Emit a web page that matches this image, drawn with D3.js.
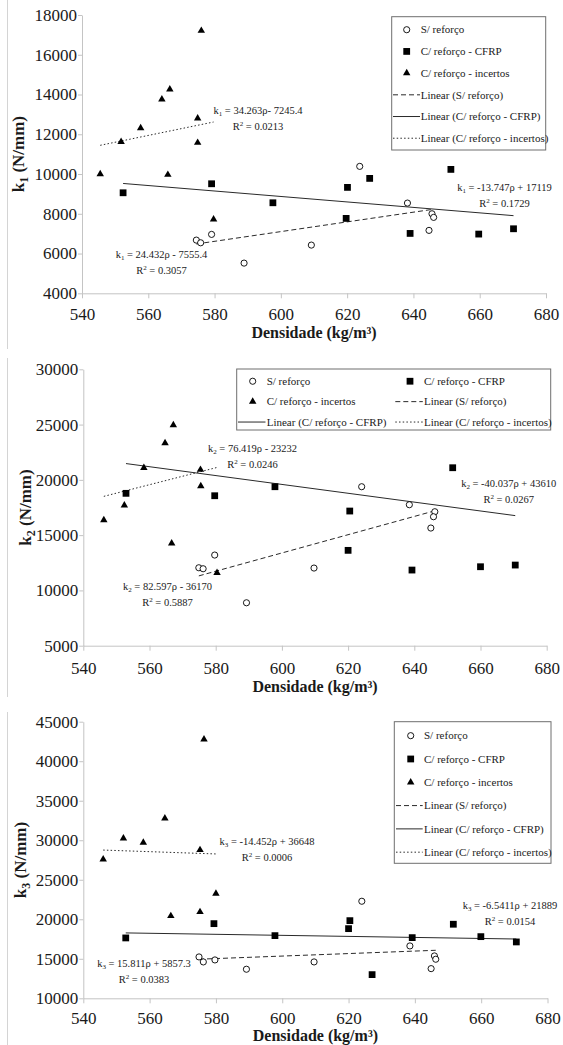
<!DOCTYPE html>
<html>
<head>
<meta charset="utf-8">
<script src="https://cdn.jsdelivr.net/npm/d3@7/dist/d3.min.js"></script>
<style>
body { margin: 0; background: #fff; }
svg text { font-family: "Liberation Serif", "Times New Roman", "DejaVu Serif", serif; fill: #1a1a1a; }
</style>
</head>
<body>
<svg id="chart" width="563" height="1045" font-family="Liberation Serif, Times New Roman, DejaVu Serif, serif"></svg>
<script>
// ---- data: [densidade, k] ----
var xTicks = [540, 560, 580, 600, 620, 640, 660, 680];
var k1Ticks = [4000, 6000, 8000, 10000, 12000, 14000, 16000, 18000];
var k2Ticks = [5000, 10000, 15000, 20000, 25000, 30000];
var k3Ticks = [10000, 15000, 20000, 25000, 30000, 35000, 40000, 45000];

var seriesNames = ["S/ reforço", "C/ reforço - CFRP", "C/ reforço - incertos"];
var lineNames = ["Linear (S/ reforço)", "Linear (C/ reforço - CFRP)", "Linear (C/ reforço - incertos)"];

var k1Sem = [[574.5, 6676], [575.8, 6541], [579.1, 6963], [588.9, 5519], [609.2, 6425], [623.8, 10385], [638.2, 8539], [645.6, 8000], [646.1, 7819], [644.7, 7165]];
var k1Cfrp = [[552.4, 9057], [579.1, 9510], [597.6, 8554], [620.1, 9328], [626.8, 9780], [619.7, 7767], [639.0, 7012], [651.3, 10233], [659.7, 6979], [670.2, 7246]];
var k1Inc = [[545.5, 10000], [551.8, 11624], [557.7, 12313], [564.1, 13755], [566.5, 14260], [576.0, 17210], [574.9, 12800], [574.9, 11575], [565.9, 9965], [579.7, 7717]];

var k2Sem = [[574.9, 12050], [576.2, 11960], [579.7, 13199], [589.3, 8883], [609.7, 12023], [624.1, 19379], [638.5, 17750], [646.2, 17117], [645.8, 16664], [645.0, 15642]];
var k2Cfrp = [[552.9, 18781], [579.7, 18564], [597.9, 19379], [620.5, 17180], [620.0, 13624], [639.3, 11842], [651.6, 21097], [660.0, 12142], [670.5, 12294]];
var k2Inc = [[546.2, 16366], [552.4, 17695], [558.3, 21097], [564.7, 23332], [567.2, 24960], [575.4, 20917], [575.5, 19442], [566.7, 14258], [580.4, 11600]];

var k3Sem = [[574.9, 15234], [576.2, 14602], [579.7, 14854], [589.2, 13678], [609.6, 14602], [624.0, 22280], [638.5, 16626], [645.9, 15361], [646.3, 14943], [644.9, 13754]];
var k3Cfrp = [[552.8, 17638], [579.4, 19447], [597.8, 17929], [620.4, 19826], [620.0, 18814], [627.1, 12995], [639.2, 17676], [651.6, 19371], [659.9, 17802], [670.6, 17132]];
var k3Inc = [[546.0, 27593], [552.1, 30250], [558.1, 29693], [564.6, 32780], [576.4, 42774], [575.2, 28770], [580.0, 23242], [575.2, 20927], [566.4, 20421]];

// trendline coefficients [slope, intercept] as printed on the chart (S, CFRP, incertos)
var k1Fits = [[24.432, -7555.4], [-13.747, 17119], [34.263, -7245.4]];
var k2Fits = [[82.597, -36170], [-40.037, 43610], [76.419, -23232]];
var k3Fits = [[15.811, 5857.3], [-6.5411, 21889], [-14.452, 36648]];

var k1Eq = ["= 24.432ρ - 7555.4", "= -13.747ρ + 17119", "= 34.263ρ- 7245.4"];
var k2Eq = ["= 82.597ρ - 36170", "= -40.037ρ + 43610", "= 76.419ρ - 23232"];
var k3Eq = ["= 15.811ρ + 5857.3", "= -6.5411ρ + 21889", "= -14.452ρ + 36648"];
var k1R2 = ["0.3057", "0.1729", "0.0213"];
var k2R2 = ["0.5887", "0.0267", "0.0246"];
var k3R2 = ["0.0383", "0.0154", "0.0006"];

// ---- layout ----
var FONT = "'Liberation Serif', 'Times New Roman', 'DejaVu Serif', serif";
var svg = d3.select("#chart");
var dashes = ["5,3", null, "1.5,2.2"];
var symbols = [d3.symbolCircle, d3.symbolSquare, d3.symbolTriangle];
var symSizes = [30, 46, 24];

var panels = [
    {sub: "1", series: [k1Sem, k1Cfrp, k1Inc], fits: k1Fits, eq: k1Eq, r2: k1R2, ticks: k1Ticks,
     x0: 82, x1: 546, yt: 15, yb: 293.3, frame: [0, 349], xLab: 314, xTitle: 333, yTitleX: 18,
     labPos: [[161.5, 254.3], [504.5, 187.3], [258, 110.7]],
     legend: {x: 391.7, y: 16.7, w: 154, h: 133.3, cols: 1, rowH: 21.7, mark: 406.7, text: 420.7, lx0: 393, lx1: 420}},
    {sub: "2", series: [k2Sem, k2Cfrp, k2Inc], fits: k2Fits, eq: k2Eq, r2: k2R2, ticks: k2Ticks,
     x0: 83.3, x1: 546.7, yt: 369.3, yb: 645.7, frame: [358, 697], xLab: 668.5, xTitle: 687, yTitleX: 25,
     labPos: [[167.5, 586.7], [508.7, 483.3], [252.5, 448.3]],
     legend: {x: 236.7, y: 369, w: 314, h: 61, cols: 2, rowH: 20.4, colW: 157.3, mark: 252.7, text: 266.7, lx0: 238, lx1: 265.5}},
    {sub: "3", series: [k3Sem, k3Cfrp, k3Inc], fits: k3Fits, eq: k3Eq, r2: k3R2, ticks: k3Ticks,
     x0: 83.3, x1: 547.5, yt: 721.7, yb: 998.3, frame: [712, 1045], xLab: 1018.5, xTitle: 1035.5, yTitleX: 20,
     labPos: [[144, 963.3], [510, 905.3], [267, 841.7]],
     legend: {x: 394.3, y: 721.7, w: 156.7, h: 141.6, cols: 1, rowH: 23.3, mark: 410.7, text: 424, lx0: 396, lx1: 422.7}}
];

function drawPanel(p) {
    var ticks = p.ticks;
    var x = d3.scaleLinear().domain([540, 680]).range([p.x0, p.x1]);
    var y = d3.scaleLinear().domain([ticks[0], ticks[ticks.length - 1]]).range([p.yb, p.yt]);
    var g = svg.append("g");

    // chart area edge
    g.append("line").attr("x1", 7.5).attr("x2", 7.5).attr("y1", p.frame[0]).attr("y2", p.frame[1])
        .attr("stroke", "#d4d4d4");

    var yAxis = g.append("g").attr("transform", "translate(" + p.x0 + ",0)")
        .call(d3.axisLeft(y).tickValues(ticks).tickSizeInner(4).tickSizeOuter(0).tickPadding(1).tickFormat(d3.format("d")));
    var xAxis = g.append("g").attr("transform", "translate(0," + p.yb + ")")
        .call(d3.axisBottom(x).tickValues(xTicks).tickSizeInner(5).tickSizeOuter(0).tickFormat(d3.format("d")));
    [yAxis, xAxis].forEach(function (a) {
        a.attr("font-family", FONT).attr("font-size", 17);
        a.select(".domain").attr("stroke", "#c4c4c4");
        a.selectAll(".tick line").attr("stroke", "#c4c4c4");
        a.selectAll("text").attr("fill", "#1a1a1a");
    });
    xAxis.selectAll("text").attr("dy", null).attr("y", p.xLab - p.yb + 5.6);

    // axis titles
    g.append("text").attr("x", (p.x0 + p.x1) / 2).attr("y", p.xTitle + 5.4)
        .attr("text-anchor", "middle").attr("font-size", 16).attr("font-weight", "bold")
        .attr("font-family", FONT)
        .text("Densidade (kg/m³)");
    var yt = g.append("text")
        .attr("transform", "translate(" + (p.yTitleX + 5.8) + "," + ((p.yt + p.yb) / 2) + ") rotate(-90)")
        .attr("text-anchor", "middle").attr("font-size", 17).attr("font-weight", "bold")
        .attr("font-family", FONT);
    yt.append("tspan").text("k");
    yt.append("tspan").attr("font-size", 12).attr("dy", 4).text(p.sub);
    yt.append("tspan").attr("dy", -4).text(" (N/mm)");

    // trendlines
    p.series.forEach(function (s, i) {
        var ext = d3.extent(s, function (d) { return d[0]; });
        var f = p.fits[i];
        g.append("path")
            .datum(ext.map(function (r) { return [r, f[0] * r + f[1]]; }))
            .attr("d", d3.line().x(function (d) { return x(d[0]); }).y(function (d) { return y(d[1]); }))
            .attr("fill", "none").attr("stroke", "#2a2a2a").attr("stroke-width", 1)
            .attr("stroke-dasharray", dashes[i]);
    });

    // markers
    p.series.forEach(function (s, i) {
        g.selectAll(null).data(s).enter().append("path")
            .attr("d", d3.symbol().type(symbols[i]).size(symSizes[i]))
            .attr("transform", function (d) { return "translate(" + x(d[0]) + "," + y(d[1]) + ")"; })
            .attr("fill", i == 0 ? "#fff" : "#000")
            .attr("stroke", "#000").attr("stroke-width", i == 0 ? 0.9 : 0);
    });

    // equation labels
    p.labPos.forEach(function (pos, i) {
        var t = g.append("text").attr("x", pos[0]).attr("y", pos[1] + 3.6)
            .attr("text-anchor", "middle").attr("font-size", 10.5).attr("font-family", FONT);
        t.append("tspan").text("k");
        t.append("tspan").attr("font-size", 7).attr("dy", 2).text(p.sub);
        t.append("tspan").attr("dy", -2).text(" " + p.eq[i]);
        var r = g.append("text").attr("x", pos[0]).attr("y", pos[1] + 16 + 3.6)
            .attr("text-anchor", "middle").attr("font-size", 10.5).attr("font-family", FONT);
        r.append("tspan").text("R");
        r.append("tspan").attr("font-size", 7).attr("dy", -4).text("2");
        r.append("tspan").attr("dy", 4).text(" = " + p.r2[i]);
    });

    // legend
    var L = p.legend;
    g.append("rect").attr("x", L.x).attr("y", L.y).attr("width", L.w).attr("height", L.h)
        .attr("fill", "#fff").attr("stroke", "#6e6e6e").attr("stroke-width", 1);
    var items = seriesNames.map(function (n, i) { return {name: n, kind: "pt", s: i}; })
        .concat(lineNames.map(function (n, i) { return {name: n, kind: "ln", s: i}; }));
    items.forEach(function (it, k) {
        var col = k % L.cols, row = Math.floor(k / L.cols);
        var dx = col * (L.colW || 0);
        var cy = L.y + L.rowH * (row + 0.6);
        if (it.kind == "pt") {
            g.append("path").attr("d", d3.symbol().type(symbols[it.s]).size(symSizes[it.s]))
                .attr("transform", "translate(" + (L.mark + dx) + "," + cy + ")")
                .attr("fill", it.s == 0 ? "#fff" : "#000").attr("stroke", "#000")
                .attr("stroke-width", it.s == 0 ? 0.9 : 0);
        } else {
            g.append("line").attr("x1", L.lx0 + dx).attr("x2", L.lx1 + dx).attr("y1", cy).attr("y2", cy)
                .attr("stroke", "#2a2a2a").attr("stroke-dasharray", dashes[it.s]);
        }
        g.append("text").attr("x", L.text + dx).attr("y", cy + 3.7).attr("font-size", 11)
            .attr("font-family", FONT).text(it.name);
    });
}

panels.forEach(drawPanel);
</script>
</body>
</html>
